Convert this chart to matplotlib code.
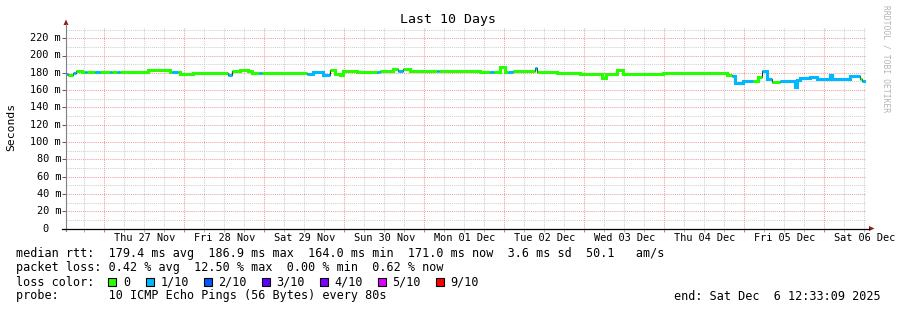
import numpy as np
import pandas as pd
import matplotlib
matplotlib.use('Agg')
import matplotlib.pyplot as plt
import matplotlib.dates as mdates
from matplotlib.lines import Line2D
from matplotlib.patches import Rectangle, Polygon

W, H = 897, 310
MONO = 'DejaVu Sans Mono'

start = pd.Timestamp('2025-11-26 12:33:09')
end = pd.Timestamp('2025-12-06 12:33:09')

# median rtt as steps: start of each step (hours after start), value (ms), lost pings of 10
seg_hours = [0.0, 0.6, 2.1, 3.0, 4.8, 5.7, 6.3, 8.7, 10.2, 13.2, 13.8, 15.3, 16.2, 24.6,
             31.2, 31.8, 33.6, 34.2, 38.1, 41.7, 42.6, 48.6, 49.8, 52.2, 54.6, 55.8, 57.9,
             58.8, 72.3, 74.1, 77.1, 79.2, 80.7, 82.2, 83.1, 87.3, 93.3, 94.2, 98.1, 99.6,
             101.1, 103.2, 111.3, 111.9, 124.2, 127.2, 128.4, 130.2, 131.7, 132.6, 134.1,
             140.7, 141.3, 147.3, 154.2, 160.8, 162.0, 165.3, 167.1, 179.1, 181.2, 198.3,
             199.8, 200.7, 203.1, 206.1, 207.6, 208.8, 210.3, 211.8, 214.2, 218.7, 219.3,
             220.2, 223.2, 225.3, 229.2, 229.8, 235.2, 238.2, 238.8]
seg_ms = [179.1, 177.0, 180.3, 182.2, 181.0, 180.6, 181.0, 180.6, 181.0, 180.6, 181.0, 180.6,
          181.4, 183.0, 181.0, 181.0, 181.0, 178.7, 179.2, 179.8, 179.2, 177.0, 181.8, 183.3,
          181.8, 179.8, 180.0, 180.3, 179.0, 181.0, 178.0, 183.0, 179.0, 177.0, 182.2, 181.0,
          181.0, 182.0, 184.1, 181.8, 184.0, 182.2, 182.0, 182.2, 181.0, 180.5, 181.0, 186.8,
          180.4, 180.4, 182.2, 186.0, 181.5, 180.3, 178.7, 174.0, 178.7, 183.0, 179.1, 179.5,
          179.6, 177.3, 175.8, 168.7, 170.6, 170.8, 175.0, 182.2, 173.0, 169.5, 170.0, 163.6,
          171.4, 174.5, 175.3, 173.0, 177.0, 173.3, 176.0, 173.0, 171.0]
seg_loss = [1, 0, 1, 0, 0, 1, 0, 1, 0, 1, 0, 1, 0, 0, 0, 1, 0, 0, 0, 0, 0, 1, 0, 0, 0, 0, 1,
            0, 1, 1, 1, 0, 0, 0, 0, 0, 1, 0, 0, 1, 0, 0, 1, 0, 0, 1, 0, 0, 0, 1, 0, 1, 0, 0,
            0, 0, 0, 0, 0, 0, 0, 0, 1, 1, 1, 0, 0, 1, 1, 0, 1, 1, 1, 1, 1, 1, 1, 1, 1, 0, 1]

loss_levels = [0, 1, 2, 3, 4, 5, 9]
loss_labels = ['0', '1/10', '2/10', '3/10', '4/10', '5/10', '9/10']
loss_colors = ['#26ff00', '#00b8ff', '#0059ff', '#5e00ff', '#7e00ff', '#dd00ff', '#ff0000']
color_of = dict(zip(loss_levels, loss_colors))

y_ticks = [0, 20, 40, 60, 80, 100, 120, 140, 160, 180, 200, 220]

legend_lines = [
    'median rtt:  179.4 ms avg  186.9 ms max  164.0 ms min  171.0 ms now  3.6 ms sd  50.1   am/s',
    'packet loss: 0.42 % avg  12.50 % max  0.00 % min  0.62 % now',
]
probe_text = 'probe:       10 ICMP Echo Pings (56 Bytes) every 80s'
end_text = 'end: Sat Dec  6 12:33:09 2025'


def fx(x):
    return x / W


def fy(y):
    return 1 - y / H


fig = plt.figure(figsize=(W / 100, H / 100), dpi=100)
fig.patch.set_facecolor('white')

ppm = 0.865  # pixels per ms
ax = fig.add_axes([fx(66), fy(228.5), 800 / W, 232 * ppm / H])
t0, t1 = mdates.date2num(start.to_pydatetime()), mdates.date2num(end.to_pydatetime())
ax.set_xlim(t0, t1)
ax.set_ylim(0, 232)
for s in ax.spines.values():
    s.set_visible(False)

# grid
days = pd.date_range('2025-11-27', '2025-12-06', freq='D')
quarters = pd.date_range('2025-11-26 18:00', '2025-12-06 12:00', freq='6h')
quarters = [q for q in quarters if q.hour != 0]
dotted = (0, (1, 1))
for q in quarters:
    ax.axvline(mdates.date2num(q.to_pydatetime()), color='#d0d0d0', lw=0.75, ls=dotted, zorder=1)
for yv in range(10, 232, 20):
    ax.axhline(yv, color='#d0d0d0', lw=0.75, ls=dotted, zorder=1)
for d in days:
    ax.axvline(mdates.date2num(d.to_pydatetime()), color='#f2a0a0', lw=0.75, ls=dotted, zorder=1.2)
for yv in y_ticks[1:]:
    ax.axhline(yv, color='#f2a0a0', lw=0.75, ls=dotted, zorder=1.2)

ax.set_xticks([mdates.date2num(d.to_pydatetime()) for d in days])
ax.set_xticks([mdates.date2num(q.to_pydatetime()) for q in quarters], minor=True)
ax.set_yticks(y_ticks)
ax.tick_params(axis='x', which='major', direction='out', length=2.5, width=0.75, colors='#e07070', labelbottom=False)
ax.tick_params(axis='x', which='minor', direction='out', length=2.5, width=0.75, colors='#b0b0b0')
ax.tick_params(axis='y', which='major', direction='out', length=3, width=0.75, colors='#606060', labelleft=False)

# median line: thin dark step then coloured runs on top
ts = [mdates.date2num((start + pd.Timedelta(hours=h)).to_pydatetime()) for h in seg_hours] + [t1]
ms = list(seg_ms) + [seg_ms[-1]]
ax.step(ts, ms, where='post', color='#202020', lw=0.8, zorder=3)
i = 0
n = len(seg_ms)
while i < n:
    j = i
    while j + 1 < n and seg_loss[j + 1] == seg_loss[i]:
        j += 1
    xs = ts[i:j + 2]
    ys = list(seg_ms[i:j + 1]) + [seg_ms[j]]
    ax.step(xs, ys, where='post', color=color_of[seg_loss[i]], lw=2.2,
            solid_capstyle='butt', solid_joinstyle='miter', zorder=4)
    i = j + 1

# y tick labels
for yv in y_ticks:
    ypx = 228.5 - yv * ppm
    if yv == 0:
        fig.text(fx(48.5), fy(ypx), '0', family=MONO, fontsize=7.4, ha='right', va='center')
    else:
        fig.text(fx(61), fy(ypx), '%d m' % yv, family=MONO, fontsize=7.4, ha='right', va='center')

# x tick labels at noon
for d in days:
    noon = mdates.date2num((d + pd.Timedelta(hours=12)).to_pydatetime())
    xp = 66 + (noon - t0) / (t1 - t0) * 800
    fig.text(fx(xp), fy(238), d.strftime('%a %d %b'), family=MONO, fontsize=7.4,
             ha='center', va='center')

# axis lines and arrows
fig.add_artist(Line2D([fx(66), fx(66)], [fy(231), fy(24)], color='#808080', lw=0.8))
fig.add_artist(Line2D([fx(62), fx(869)], [fy(228.5), fy(228.5)], color='black', lw=0.9))
fig.add_artist(Polygon([(fx(63.5), fy(25)), (fx(68.5), fy(25)), (fx(66), fy(19.5))],
                       closed=True, color='#8b1c1c', lw=0))
fig.add_artist(Polygon([(fx(869), fy(226)), (fx(869), fy(231)), (fx(874.5), fy(228.5))],
                       closed=True, color='#8b1c1c', lw=0))

# title, unit, watermark
fig.text(fx(448), fy(20), 'Last 10 Days', family=MONO, fontsize=9.5, ha='center', va='center')
fig.text(fx(11), fy(127), 'Seconds', family=MONO, fontsize=8.2, rotation=90, ha='center', va='center')
fig.text(fx(886), fy(59), 'RRDTOOL / TOBI OETIKER', family=MONO, fontsize=5.8, rotation=270,
         ha='center', va='center', color='#b4b4b4')

# legend
LS = 8.5
fig.text(fx(15.5), fy(254), legend_lines[0], family=MONO, fontsize=LS, va='center')
fig.text(fx(15.5), fy(268), legend_lines[1], family=MONO, fontsize=LS, va='center')
fig.text(fx(15.5), fy(282), 'loss color:', family=MONO, fontsize=LS, va='center')
box_x = [108, 146, 203.5, 261.5, 319.5, 377.5, 435.5]
for bx, lab, col in zip(box_x, loss_labels, loss_colors):
    fig.add_artist(Rectangle((fx(bx), fy(286)), 8 / W, 8 / H, transform=fig.transFigure,
                             facecolor=col, edgecolor='black', lw=0.8))
    fig.text(fx(bx + 15), fy(282), lab, family=MONO, fontsize=LS, va='center')
fig.text(fx(15.5), fy(296), probe_text, family=MONO, fontsize=LS, va='center')
fig.text(fx(881), fy(296), end_text, family=MONO, fontsize=LS, ha='right', va='center')

fig.savefig('out.png', dpi=100, facecolor='white')
